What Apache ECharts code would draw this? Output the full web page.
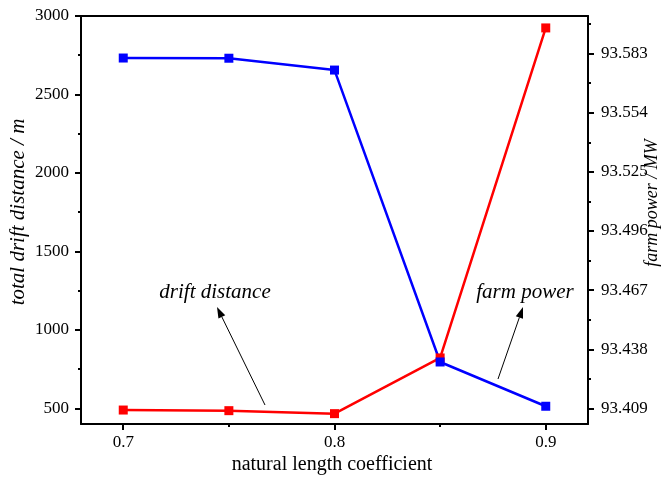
<!DOCTYPE html>
<html>
<head>
<meta charset="utf-8">
<script src="https://cdn.jsdelivr.net/npm/echarts@6/dist/echarts.min.js"></script>
<style>html,body{margin:0;padding:0;background:#fff}#c{width:666px;height:479px}</style>
</head>
<body>
<div id="c"></div>
<script>
const xValues = [0.7, 0.75, 0.8, 0.85, 0.9];
const driftDistance = [489, 485, 466, 821, 2924];
const farmPower = [93.5808, 93.5807, 93.5749, 93.4318, 93.4101];
const xTickLabels = [0.7, 0.8, 0.9];
const xMinorTicks = [0.75, 0.85];
const leftTickLabels = [500, 1000, 1500, 2000, 2500, 3000];
const leftMinorTicks = [750, 1250, 1750, 2250, 2750];
const rightTickLabels = [93.409, 93.438, 93.467, 93.496, 93.525, 93.554, 93.583];
const rightMinorTicks = [93.4235, 93.4525, 93.4815, 93.5105, 93.5395, 93.5685, 93.5975];

const FONT = '"Liberation Serif", "Times New Roman", serif';
const X_MIN = 0.68, X_MAX = 0.92;
const L_MIN = 400, L_MAX = 3000;
const R_MIN = 93.4014, R_MAX = 93.6014;

const chart = echarts.init(document.getElementById('c'), null, {renderer: 'canvas'});

function arrow(x1, y1, x2, y2) {
  const dx = x2 - x1, dy = y2 - y1;
  const len = Math.sqrt(dx * dx + dy * dy);
  const ux = dx / len, uy = dy / len;
  const hl = 11, hw = 3.8;
  const bx = x2 - ux * hl, by = y2 - uy * hl;
  return [
    {type: 'line', shape: {x1: x1, y1: y1, x2: bx, y2: by}, style: {stroke: '#000', lineWidth: 1}},
    {type: 'polygon', shape: {points: [[x2, y2], [bx - uy * hw, by + ux * hw], [bx + uy * hw, by - ux * hw]]}, style: {fill: '#000'}}
  ];
}

const tickStyle = {color: '#000', width: 2};
const labelStyle = {color: '#000', fontFamily: FONT, fontSize: 17};

const option = {
  animation: false,
  backgroundColor: '#fff',
  grid: {left: 81, right: 78, top: 16, bottom: 55, containLabel: false},
  xAxis: [
    {
      type: 'value', min: X_MIN, max: X_MAX, position: 'bottom',
      axisLine: {show: true, onZero: false, lineStyle: {color: '#000', width: 2}},
      axisTick: {show: true, length: 6, customValues: xTickLabels, lineStyle: tickStyle},
      axisLabel: {show: true, customValues: xTickLabels, margin: 10, formatter: v => v.toFixed(1), ...labelStyle},
      splitLine: {show: false}
    },
    {
      type: 'value', min: X_MIN, max: X_MAX, position: 'bottom',
      axisLine: {show: false, onZero: false},
      axisTick: {show: true, length: 3, customValues: xMinorTicks, lineStyle: tickStyle},
      axisLabel: {show: false},
      splitLine: {show: false}
    },
    {
      type: 'value', min: X_MIN, max: X_MAX, position: 'top',
      axisLine: {show: true, onZero: false, lineStyle: {color: '#000', width: 2}},
      axisTick: {show: false}, axisLabel: {show: false}, splitLine: {show: false}
    }
  ],
  yAxis: [
    {
      type: 'value', min: L_MIN, max: L_MAX, position: 'left',
      axisLine: {show: true, onZero: false, lineStyle: {color: '#000', width: 2}},
      axisTick: {show: true, length: 6, customValues: leftTickLabels, lineStyle: tickStyle},
      axisLabel: {show: true, customValues: leftTickLabels, margin: 12, formatter: v => String(v), ...labelStyle},
      splitLine: {show: false}
    },
    {
      type: 'value', min: R_MIN, max: R_MAX, position: 'right',
      axisLine: {show: true, onZero: false, lineStyle: {color: '#000', width: 2}},
      axisTick: {show: true, length: 6, customValues: rightTickLabels, lineStyle: tickStyle},
      axisLabel: {show: true, customValues: rightTickLabels, margin: 13, formatter: v => v.toFixed(3), ...labelStyle},
      splitLine: {show: false}
    },
    {
      type: 'value', min: L_MIN, max: L_MAX, position: 'left',
      axisLine: {show: false, onZero: false},
      axisTick: {show: true, length: 3, customValues: leftMinorTicks, lineStyle: tickStyle},
      axisLabel: {show: false}, splitLine: {show: false}
    },
    {
      type: 'value', min: R_MIN, max: R_MAX, position: 'right',
      axisLine: {show: false, onZero: false},
      axisTick: {show: true, length: 3, customValues: rightMinorTicks, lineStyle: tickStyle},
      axisLabel: {show: false}, splitLine: {show: false}
    }
  ],
  series: [
    {
      name: 'drift distance', type: 'line', xAxisIndex: 0, yAxisIndex: 0,
      data: xValues.map((x, i) => [x, driftDistance[i]]),
      symbol: 'rect', symbolSize: 9,
      lineStyle: {color: '#ff0000', width: 2.5},
      itemStyle: {color: '#ff0000'}
    },
    {
      name: 'farm power', type: 'line', xAxisIndex: 0, yAxisIndex: 1,
      data: xValues.map((x, i) => [x, farmPower[i]]),
      symbol: 'rect', symbolSize: 9,
      lineStyle: {color: '#0000ff', width: 2.5},
      itemStyle: {color: '#0000ff'}
    }
  ],
  graphic: [
    {type: 'text', x: 18, y: 212, rotation: Math.PI / 2,
      style: {text: 'total drift distance / m', font: 'italic 21px ' + FONT, fill: '#000', align: 'center', verticalAlign: 'middle'}},
    {type: 'text', x: 652, y: 203, rotation: Math.PI / 2,
      style: {text: 'farm power / MW', font: 'italic 18px ' + FONT, fill: '#000', align: 'center', verticalAlign: 'middle'}},
    {type: 'text', x: 332, y: 465,
      style: {text: 'natural length coefficient', font: '20px ' + FONT, fill: '#000', align: 'center', verticalAlign: 'middle'}},
    {type: 'text', x: 215, y: 292,
      style: {text: 'drift distance', font: 'italic 21px ' + FONT, fill: '#000', align: 'center', verticalAlign: 'middle'}},
    {type: 'text', x: 525, y: 292,
      style: {text: 'farm power', font: 'italic 21px ' + FONT, fill: '#000', align: 'center', verticalAlign: 'middle'}},
    ...arrow(265, 405, 217, 307),
    ...arrow(498, 379, 523, 307)
  ]
};
chart.setOption(option);
</script>
</body>
</html>
